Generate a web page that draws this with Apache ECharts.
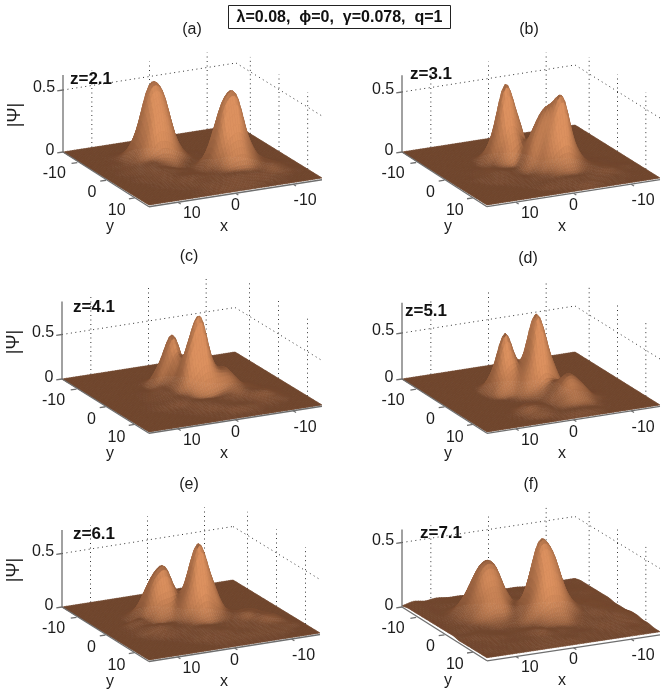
<!DOCTYPE html>
<html>
<head>
<meta charset="utf-8">
<title>|Psi| surfaces</title>
<script src="https://cdn.jsdelivr.net/npm/echarts@6/dist/echarts.min.js"></script>
<style>
html,body{margin:0;padding:0;background:#fff;}
#main{width:661px;height:690px;}
</style>
</head>
<body>
<div id="main"></div>
<script>
// axis values
var xTicks = [10, 0, -10];
var yTicks = [-10, 0, 10];
var zTicks = [0, 0.5];
var panelNames = ['(a)', '(b)', '(c)', '(d)', '(e)', '(f)'];
var zNames = ['z=2.1', 'z=3.1', 'z=4.1', 'z=5.1', 'z=6.1', 'z=7.1'];
var headline = 'λ=0.08,  ϕ=0,  γ=0.078,  q=1';

// |Psi|, in hundredths
// rows: y = -15,-13..15   columns: x = -15,-13..15
var psiA = [
	[0,0,0,0,0,0,0,0,0,0,0,0,0,0,0,0],
	[0,0,0,0,0,0,0,0,0,0,0,0,0,0,0,0],
	[0,0,0,0,0,0,0,0,0,1,1,0,0,0,0,0],
	[0,0,0,0,0,0,0,0,2,6,7,3,1,0,0,0],
	[0,0,0,0,0,0,0,1,11,29,32,14,3,0,0,0],
	[0,0,0,0,0,0,1,3,20,56,61,27,5,1,0,0],
	[0,0,0,0,0,0,1,3,15,42,46,21,6,1,0,0],
	[0,0,0,0,1,1,2,3,5,13,15,9,5,2,0,0],
	[0,0,0,1,6,15,13,5,2,2,5,7,4,1,0,0],
	[0,0,1,4,21,46,42,15,3,3,5,6,3,1,0,0],
	[0,1,2,6,27,61,56,20,5,3,4,4,2,0,0,0],
	[0,1,5,9,16,32,29,13,5,5,4,2,1,0,0,0],
	[0,1,4,8,7,9,9,7,6,4,2,1,0,0,0,0],
	[0,0,1,3,4,5,6,6,5,4,1,0,0,0,0,0],
	[0,0,0,1,1,2,3,3,3,2,1,0,0,0,0,0],
	[0,0,0,0,0,0,0,0,0,0,0,0,0,0,0,0]
];
var psiB = [
	[0,0,0,0,0,0,0,0,0,0,0,0,0,0,0,0],
	[0,0,0,0,0,0,0,0,0,0,0,0,0,0,0,0],
	[0,0,0,0,0,0,0,0,0,0,0,0,0,0,0,0],
	[0,0,0,0,0,0,0,0,0,1,0,0,0,0,0,0],
	[0,0,0,0,0,0,0,0,2,4,2,0,0,0,0,0],
	[0,0,0,0,0,0,0,3,20,32,13,1,0,0,0,0],
	[0,0,0,0,0,0,0,6,39,65,26,3,0,0,0,0],
	[0,0,0,1,1,1,1,6,23,33,14,3,1,0,0,0],
	[0,0,0,1,2,6,14,30,24,8,4,4,2,0,0,0],
	[0,0,1,2,5,18,46,52,34,7,4,5,3,1,0,0],
	[0,0,1,3,6,24,62,44,17,3,3,3,2,0,0,0],
	[0,1,2,4,7,13,24,19,7,3,2,1,0,0,0,0],
	[0,0,2,5,6,6,6,6,4,2,1,0,0,0,0,0],
	[0,0,1,2,3,4,4,4,3,2,0,0,0,0,0,0],
	[0,0,0,1,1,2,3,2,1,0,0,0,0,0,0,0],
	[0,0,0,0,0,0,0,0,0,0,0,0,0,0,0,0]
];
var psiC = [
	[0,0,0,0,0,0,0,0,0,0,0,0,0,0,0,0],
	[0,0,0,0,0,0,0,0,0,0,0,0,0,0,0,0],
	[0,0,0,0,0,0,0,0,0,0,0,0,0,0,0,0],
	[0,0,0,0,0,0,0,0,1,0,0,0,0,0,0,0],
	[0,0,0,0,0,0,0,5,14,7,1,0,0,0,0,0],
	[0,0,0,0,0,0,1,20,55,27,2,0,0,0,0,0],
	[0,0,0,0,0,0,5,18,40,16,3,1,0,0,0,0],
	[0,0,0,0,2,7,20,61,36,12,6,2,0,0,0,0],
	[0,0,0,3,8,24,32,85,59,14,7,3,0,0,0,0],
	[0,0,1,4,10,24,28,35,23,8,6,3,1,0,0,0],
	[0,0,2,5,9,14,10,7,5,6,5,3,1,0,0,0],
	[0,0,3,8,8,7,6,5,6,5,2,1,0,0,0,0],
	[0,0,2,4,4,4,4,5,5,3,1,0,0,0,0,0],
	[0,0,0,1,1,3,4,4,2,1,0,0,0,0,0,0],
	[0,0,0,0,0,1,1,1,1,0,0,0,0,0,0,0],
	[0,0,0,0,0,0,0,0,0,0,0,0,0,0,0,0]
];
var psiD = [
	[0,0,0,0,0,0,0,0,0,0,0,0,0,0,0,0],
	[0,0,0,0,0,0,0,0,0,0,0,0,0,0,0,0],
	[0,0,0,0,0,0,0,0,0,0,0,0,0,0,0,0],
	[0,0,0,0,0,0,0,0,0,0,0,0,0,0,0,0],
	[0,0,0,0,0,0,0,0,0,1,0,0,0,0,0,0],
	[0,0,0,0,0,0,1,2,9,20,8,0,0,0,0,0],
	[0,0,0,0,0,2,11,16,24,61,25,2,0,0,0,0],
	[0,0,0,0,0,6,38,77,36,30,16,1,0,0,0,0],
	[0,0,0,0,0,6,38,76,36,10,2,0,0,0,0,0],
	[0,0,0,0,1,6,17,25,12,2,0,0,0,0,0,0],
	[0,0,0,1,4,15,22,14,4,1,0,0,0,0,0,0],
	[0,0,0,1,6,21,30,17,5,3,3,0,0,0,0,0],
	[0,0,0,0,3,12,17,11,4,7,9,2,0,0,0,0],
	[0,0,0,0,1,3,5,4,3,5,4,1,0,0,0,0],
	[0,0,0,0,0,2,3,3,2,1,0,0,0,0,0,0],
	[0,0,0,0,0,0,0,0,0,0,0,0,0,0,0,0]
];
var psiE = [
	[0,0,0,0,0,0,0,0,0,0,0,0,0,0,0,0],
	[0,0,0,0,0,0,0,0,0,0,0,0,0,0,0,0],
	[0,0,0,0,0,0,0,0,0,0,0,0,0,0,0,0],
	[0,0,0,0,0,0,0,0,0,1,1,0,0,0,0,0],
	[0,0,0,0,0,0,0,0,3,8,7,2,0,0,0,0],
	[0,0,0,0,0,0,0,3,12,33,29,9,1,0,0,0],
	[0,0,0,0,0,2,9,12,20,47,40,12,1,0,0,0],
	[0,0,0,0,2,7,33,57,28,22,19,6,6,1,0,0],
	[0,0,0,2,4,11,41,70,36,10,5,3,4,1,0,0],
	[0,0,2,8,8,10,18,28,17,6,5,7,5,1,0,0],
	[0,0,3,10,12,8,7,7,6,5,4,4,2,0,0,0],
	[0,2,8,10,7,6,5,5,6,4,2,1,0,0,0,0],
	[0,2,4,5,5,4,4,5,5,3,1,0,0,0,0,0],
	[0,0,2,3,3,3,3,3,3,1,0,0,0,0,0,0],
	[0,0,0,1,1,1,1,1,1,0,0,0,0,0,0,0],
	[0,0,0,0,0,0,0,0,0,0,0,0,0,0,0,0]
];
var psiF = [
	[2,2,2,1,1,2,2,2,2,1,2,2,3,2,3,1],
	[3,2,2,2,2,3,3,3,3,3,3,3,3,3,3,2],
	[3,3,3,3,3,4,3,3,3,3,3,4,4,3,3,2],
	[3,4,4,3,3,3,3,4,3,4,5,5,4,3,3,2],
	[3,5,5,4,4,3,4,3,4,9,16,16,9,4,3,2],
	[3,4,5,5,4,5,5,5,7,19,35,35,19,7,3,2],
	[3,4,5,6,7,8,13,15,8,22,43,43,22,8,3,2],
	[2,4,6,7,9,18,37,41,18,15,27,27,15,6,3,2],
	[2,4,6,8,11,25,54,62,28,12,10,10,6,4,3,2],
	[2,5,7,9,9,20,42,47,26,10,4,3,3,3,2,2],
	[3,6,8,9,7,10,18,19,12,5,3,2,3,4,3,1],
	[3,6,8,7,6,5,5,6,5,5,4,3,4,4,2,1],
	[2,5,6,6,5,3,3,4,5,8,4,3,3,3,2,1],
	[2,3,4,4,3,3,3,3,4,5,4,3,3,2,2,1],
	[1,2,3,2,2,2,2,3,3,3,3,2,2,2,1,1],
	[1,1,1,1,1,1,1,1,1,1,1,1,1,1,1,1]
];
var surfaces = [psiA, psiB, psiC, psiD, psiE, psiF];

// layout, px inside each grid: L, F, R = floor corners, zPx = px per unit of |Psi|
var layout = [
	{left: 0, top: 0, L: [63, 152], F: [149, 205], R: [322, 178], zPx: 124, zTop: 0.62, title: [192, 31], zText: [91, 79], psi: true},
	{left: 339, top: 0, L: [63, 152], F: [148, 205], R: [321, 178], zPx: 120, zTop: 0.64, title: [529, 31], zText: [431, 74]},
	{left: 0, top: 227, L: [62, 152], F: [149, 205], R: [322, 178], zPx: 89, zTop: 0.87, title: [189, 258], zText: [94, 307], psi: true},
	{left: 339, top: 227, L: [63, 152], F: [148, 205], R: [321, 178], zPx: 92, zTop: 0.83, title: [528, 260], zText: [426, 311]},
	{left: 0, top: 455, L: [62, 152], F: [149, 205], R: [320, 178], zPx: 107, zTop: 0.72, title: [189, 486], zText: [94, 534], psi: true},
	{left: 339, top: 455, L: [63, 152], F: [148, 204], R: [321, 178], zPx: 129, zTop: 0.6, title: [531, 486], zText: [441, 533]}
];

var FONT = '"Liberation Sans", Arial, sans-serif';
var SUB = 5; // mesh refinement, only for drawing a smooth skin over the grid
var LIGHT = [0.1, 0.995];
var SLOPE = 15;
var DARK = [110, 68, 44];
var BRIGHT = [220, 145, 95];
var AXIS_GRAY = '#6f6f6f';

function cubic(a, b, c, d, t) {
	return b + 0.5 * t * (c - a + t * (2 * a - 5 * b + 4 * c - d + t * (3 * (b - c) + d - a)));
}
function clampIdx(i, n) {
	return i < 0 ? 0 : (i > n - 1 ? n - 1 : i);
}
function sample(m, u, v) {
	var n = m.length, iu = Math.min(Math.floor(u), n - 2), iv = Math.min(Math.floor(v), n - 2);
	var tu = u - iu, tv = v - iv, rows = [];
	for (var r = -1; r <= 2; r++) {
		var row = m[clampIdx(iv + r, n)];
		rows.push(cubic(row[clampIdx(iu - 1, n)], row[iu], row[clampIdx(iu + 1, n)], row[clampIdx(iu + 2, n)], tu));
	}
	return Math.max(0, cubic(rows[0], rows[1], rows[2], rows[3], tv)) / 100;
}
function refine(m) {
	var out = [], count = (m.length - 1) * SUB + 1;
	for (var j = 0; j < count; j++) {
		var line = [];
		for (var i = 0; i < count; i++) {
			line.push(sample(m, i / SUB, j / SUB));
		}
		out.push(line);
	}
	return out;
}
// grid relative position of a point of the box
function project(p, x, y, z) {
	var s = (15 - x) / 30, t = (15 - y) / 30;
	return [
		p.F[0] + s * (p.R[0] - p.F[0]) + t * (p.L[0] - p.F[0]),
		p.F[1] + s * (p.R[1] - p.F[1]) + t * (p.L[1] - p.F[1]) - z * p.zPx
	];
}
function shade(mesh, i, j, zTop) {
	var n = mesh.length, h = 2 / SUB;
	var i0 = Math.max(i - 1, 0), i1 = Math.min(i + 1, n - 1), j0 = Math.max(j - 1, 0), j1 = Math.min(j + 1, n - 1);
	var zx = (mesh[j][i1] - mesh[j][i0]) / ((i1 - i0) * h) * SLOPE;
	var zy = (mesh[j1][i] - mesh[j0][i]) / ((j1 - j0) * h) * SLOPE;
	var len = Math.sqrt(zx * zx + zy * zy + 1);
	var nx = -zx / len, ny = -zy / len;
	var mag = Math.sqrt(nx * nx + ny * ny);
	var az = mag > 0 ? Math.max(0, (nx * LIGHT[0] + ny * LIGHT[1]) / mag) : 0;
	var t = Math.pow(mag, 1.5) * (0.28 + 0.62 * Math.pow(az, 1.5)) + 0.35 * mesh[j][i] / zTop;
	t = Math.min(1, t);
	return 'rgb(' + Math.round(DARK[0] + t * (BRIGHT[0] - DARK[0])) + ',' +
		Math.round(DARK[1] + t * (BRIGHT[1] - DARK[1])) + ',' +
		Math.round(DARK[2] + t * (BRIGHT[2] - DARK[2])) + ')';
}

function surfaceSeries(idx) {
	var p = layout[idx], mesh = refine(surfaces[idx]), n = mesh.length, cells = [];
	// back corner first, front corner last
	for (var s = 0; s <= 2 * (n - 2); s++) {
		for (var j = 0; j < n - 1; j++) {
			var i = s - j;
			if (i >= 0 && i < n - 1) {
				cells.push([i, j]);
			}
		}
	}
	function pos(i, j) {
		return project(p, -15 + i * 2 / SUB, -15 + j * 2 / SUB, mesh[j][i]);
	}
	return {
		type: 'custom',
		xAxisIndex: idx,
		yAxisIndex: idx,
		z: 2,
		silent: true,
		animation: false,
		progressive: 0,
		data: cells,
		renderItem: function(params, api) {
			var c = cells[params.dataIndex], i = c[0], j = c[1];
			var color = shade(mesh, i, j, p.zTop);
			return {
				type: 'polygon',
				shape: {
					points: [api.coord(pos(i, j)), api.coord(pos(i + 1, j)), api.coord(pos(i + 1, j + 1)), api.coord(pos(i, j + 1))]
				},
				style: {fill: color, stroke: color, lineWidth: 0.6}
			};
		}
	};
}

function wallSeries(idx) {
	var p = layout[idx], lines = [];
	// dotted grid on the two back walls
	zTicks.forEach(function(v) {
		if (v > 0) {
			lines.push([15, -15, v, -15, -15, v]);
			lines.push([-15, -15, v, -15, 15, v]);
		}
	});
	xTicks.forEach(function(v) {
		lines.push([v, -15, 0, v, -15, p.zTop]);
	});
	yTicks.forEach(function(v) {
		lines.push([-15, v, 0, -15, v, p.zTop]);
	});
	return {
		type: 'custom',
		xAxisIndex: idx,
		yAxisIndex: idx,
		z: 1,
		silent: true,
		animation: false,
		data: lines,
		renderItem: function(params, api) {
			var a = lines[params.dataIndex];
			var s = api.coord(project(p, a[0], a[1], a[2])), e = api.coord(project(p, a[3], a[4], a[5]));
			return {
				type: 'line',
				shape: {x1: s[0], y1: s[1], x2: e[0], y2: e[1]},
				style: {stroke: '#333', lineWidth: 1, lineDash: [1, 3.5], fill: null}
			};
		}
	};
}

function frontSeries(idx) {
	var p = layout[idx], items = [], low = -0.014;
	function line(a, b, c, d, e, f) {
		items.push({line: [a, b, c, d, e, f]});
	}
	function label(text, base, dx, dy, extra) {
		items.push({text: String(text), base: base, dx: dx, dy: dy, extra: extra || {}});
	}
	line(15, -15, 0, 15, 15, low);
	line(15, 15, low, -15, 15, low);
	line(15, -15, 0, 15, -15, p.zTop);
	var yOff = [[-23, 13], [-14, 14], [-18, 14]];
	yTicks.forEach(function(v, k) {
		line(15, v, low, 16, v, low);
		label(v, [15, v, 0], yOff[k][0], yOff[k][1]);
	});
	var xOff = [[14, 13], [0, 14], [12, 18]];
	xTicks.forEach(function(v, k) {
		line(v, 15, low, v, 16, low);
		label(v, [v, 15, 0], xOff[k][0], xOff[k][1]);
	});
	zTicks.forEach(function(v) {
		line(15, -15, v, 16, -15, v);
		label(v, [15, -15, v], v > 0 ? -19 : -13, v > 0 ? -2 : -1);
	});
	label('x', [15, 15, 0], 75, 22);
	label('y', [15, 15, 0], -39, 22);
	if (p.psi) {
		label('|Ψ|', [15, -15, 0], -48, -37, {rotation: Math.PI / 2, size: 18});
	}
	return {
		type: 'custom',
		xAxisIndex: idx,
		yAxisIndex: idx,
		z: 3,
		silent: true,
		animation: false,
		data: items.map(function(d, k) { return k; }),
		renderItem: function(params, api) {
			var it = items[params.dataIndex];
			if (it.line) {
				var a = it.line;
				var s = api.coord(project(p, a[0], a[1], a[2])), e = api.coord(project(p, a[3], a[4], a[5]));
				return {
					type: 'line',
					shape: {x1: s[0], y1: s[1], x2: e[0], y2: e[1]},
					style: {stroke: AXIS_GRAY, lineWidth: 1.3, fill: null}
				};
			}
			var c = api.coord(project(p, it.base[0], it.base[1], it.base[2]));
			return {
				type: 'text',
				x: c[0] + it.dx,
				y: c[1] + it.dy,
				rotation: it.extra.rotation || 0,
				style: {
					text: it.text,
					font: (it.extra.size || 16) + 'px ' + FONT,
					fill: '#1c1c1c',
					align: 'center',
					verticalAlign: 'middle'
				}
			};
		}
	};
}

var grids = [], xAxes = [], yAxes = [], series = [], titles = [], marks = [];
layout.forEach(function(p, idx) {
	grids.push({left: p.left, top: p.top, width: 322, height: 228});
	xAxes.push({type: 'value', gridIndex: idx, min: 0, max: 322, show: false});
	yAxes.push({type: 'value', gridIndex: idx, min: 0, max: 228, inverse: true, show: false});
	series.push(wallSeries(idx));
	series.push(surfaceSeries(idx));
	series.push(frontSeries(idx));
	titles.push({
		text: panelNames[idx],
		left: p.title[0],
		top: p.title[1] - 9,
		padding: 0,
		textAlign: 'center',
		textStyle: {fontFamily: FONT, fontSize: 16, fontWeight: 'normal', color: '#1c1c1c'}
	});
	marks.push({
		type: 'text',
		x: p.zText[0],
		y: p.zText[1],
		z: 20,
		style: {
			text: zNames[idx],
			font: 'bold 17px ' + FONT,
			fill: '#111',
			align: 'center',
			verticalAlign: 'middle'
		}
	});
});
marks.push({
	type: 'rect',
	z: 20,
	shape: {x: 228.5, y: 5.5, width: 222, height: 23},
	style: {fill: '#fff', stroke: '#222', lineWidth: 1}
});
marks.push({
	type: 'text',
	x: 339.5,
	y: 17.5,
	z: 21,
	style: {
		text: headline,
		font: 'bold 16px ' + FONT,
		fill: '#111',
		align: 'center',
		verticalAlign: 'middle'
	}
});

var chart = echarts.init(document.getElementById('main'), null, {renderer: 'canvas'});
chart.setOption({
	backgroundColor: '#fff',
	animation: false,
	title: titles,
	grid: grids,
	xAxis: xAxes,
	yAxis: yAxes,
	graphic: marks,
	series: series
});
</script>
</body>
</html>
